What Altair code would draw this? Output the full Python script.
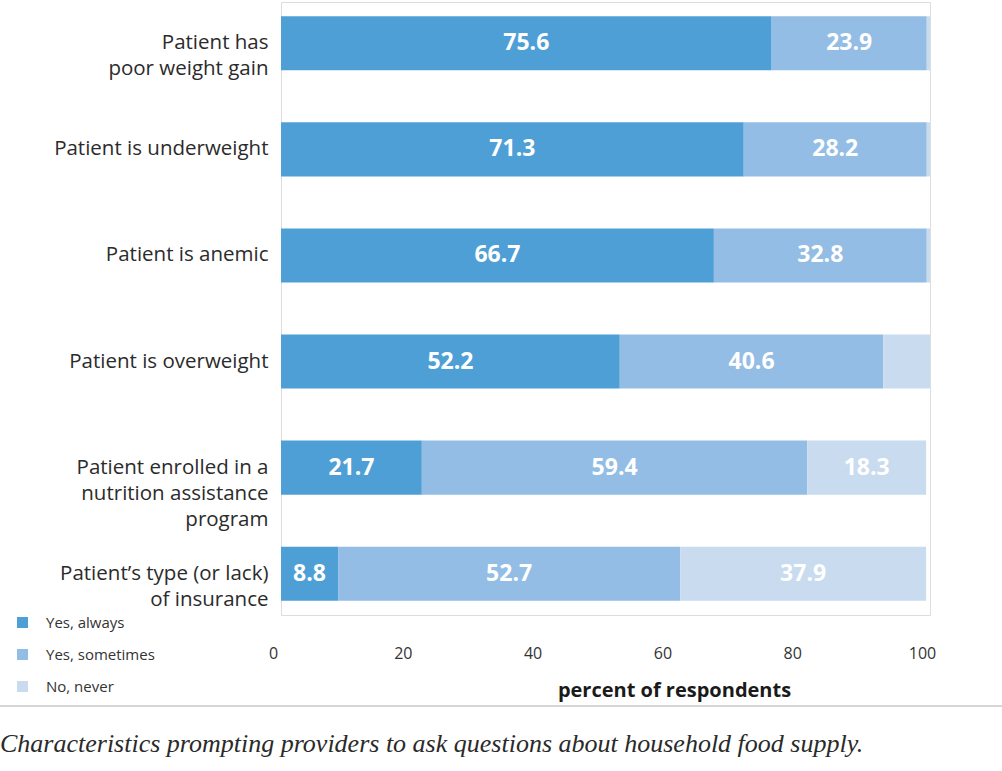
import altair as alt
import pandas as pd

# ---- data ----
categories = [
    "Patient has|poor weight gain",
    "Patient is underweight",
    "Patient is anemic",
    "Patient is overweight",
    "Patient enrolled in a|nutrition assistance|program",
    "Patient’s type (or lack)|of insurance",
]
responses = ["Yes, always", "Yes, sometimes", "No, never"]
always = [75.6, 71.3, 66.7, 52.2, 21.7, 8.8]
sometimes = [23.9, 28.2, 32.8, 40.6, 59.4, 52.7]
never = [0.5, 0.5, 0.5, 7.2, 18.3, 37.9]
colors = ["#4f9fd7", "#93bde5", "#c9dcef"]
x_ticks = [0, 20, 40, 60, 80, 100]
x_title = "percent of respondents"
caption = "Characteristics prompting providers to ask questions about household food supply."

rows = []
for i, c in enumerate(categories):
    for j, (r, vals) in enumerate(zip(responses, [always, sometimes, never])):
        rows.append({"category": c, "response": r, "value": vals[i], "order": j})
df = pd.DataFrame(rows)

FONT = "Open Sans"

base = alt.Chart(df).transform_stack(
    stack="value", groupby=["category"], as_=["x0", "x1"], sort=[alt.SortField("order")]
).transform_calculate(
    mid="(datum.x0 + datum.x1) / 2",
    label="datum.value >= 8 ? format(datum.value, '.1f') : ''",
)

yenc = alt.Y(
    "category:N",
    sort=categories,
    scale=alt.Scale(paddingInner=0.49, paddingOuter=0.134),
    axis=alt.Axis(
        title=None,
        labelExpr="split(datum.label, '|')",
        labelFont=FONT,
        labelFontSize=20.5,
        labelColor="#2b2b2b",
        labelLineHeight=26,
        labelPadding=13,
        labelLimit=300,
        ticks=False,
        domain=False,
    ),
)

bars = base.mark_bar().encode(
    x=alt.X(
        "x0:Q",
        scale=alt.Scale(domain=[0, 100], nice=False),
        axis=alt.Axis(
            values=x_ticks,
            title=x_title,
            titleFont=FONT,
            titleFontSize=20,
            titleFontWeight="bold",
            titleColor="#1a1a1a",
            titleX=393,
            titleY=81,
            titleAlign="center",
            titleBaseline="alphabetic",
            labelFont=FONT,
            labelFontSize=16,
            labelColor="#333333",
            labelPadding=30,
            labelOffset=-8,
            labelFlush=False,
            ticks=False,
            domain=False,
            grid=False,
        ),
    ),
    x2="x1:Q",
    y=yenc,
    color=alt.Color(
        "response:N",
        scale=alt.Scale(domain=responses, range=colors),
        legend=alt.Legend(
            title=None,
            orient="none",
            legendX=-266,
            legendY=613,
            symbolType="square",
            symbolSize=121,
            symbolStrokeWidth=0,
            labelFont=FONT,
            labelFontSize=15,
            labelColor="#333333",
            labelOffset=16,
            rowPadding=16,
            padding=0,
        ),
    ),
)

labels = base.mark_text(
    color="white", font=FONT, fontSize=23, fontWeight="bold", baseline="middle", align="center"
).encode(
    x="mid:Q",
    y=alt.Y("category:N", sort=categories),
    text="label:N",
)

rule = alt.Chart(pd.DataFrame({"k": [0]})).mark_rule(color="#c8c8c8", strokeWidth=1.5).encode(
    x=alt.value(-281), x2=alt.value(721), y=alt.value(704)
)

cap = alt.Chart(pd.DataFrame({"t": [caption]})).mark_text(
    font="Liberation Serif", fontStyle="italic", fontSize=26, color="#2a2a2a",
    align="left", baseline="alphabetic",
).encode(text="t:N", x=alt.value(-281), y=alt.value(750))

chart = alt.layer(bars, labels, rule, cap).properties(
    width=649,
    height=613,
    autosize=alt.AutoSizeParams(type="none"),
    padding={"left": 281, "top": 2, "right": 72, "bottom": 156},
).configure_view(
    stroke="#bdbdbd", strokeWidth=1.5
).configure(background="white")

chart.save("out.html", embed_options={"renderer": "svg", "actions": False})
